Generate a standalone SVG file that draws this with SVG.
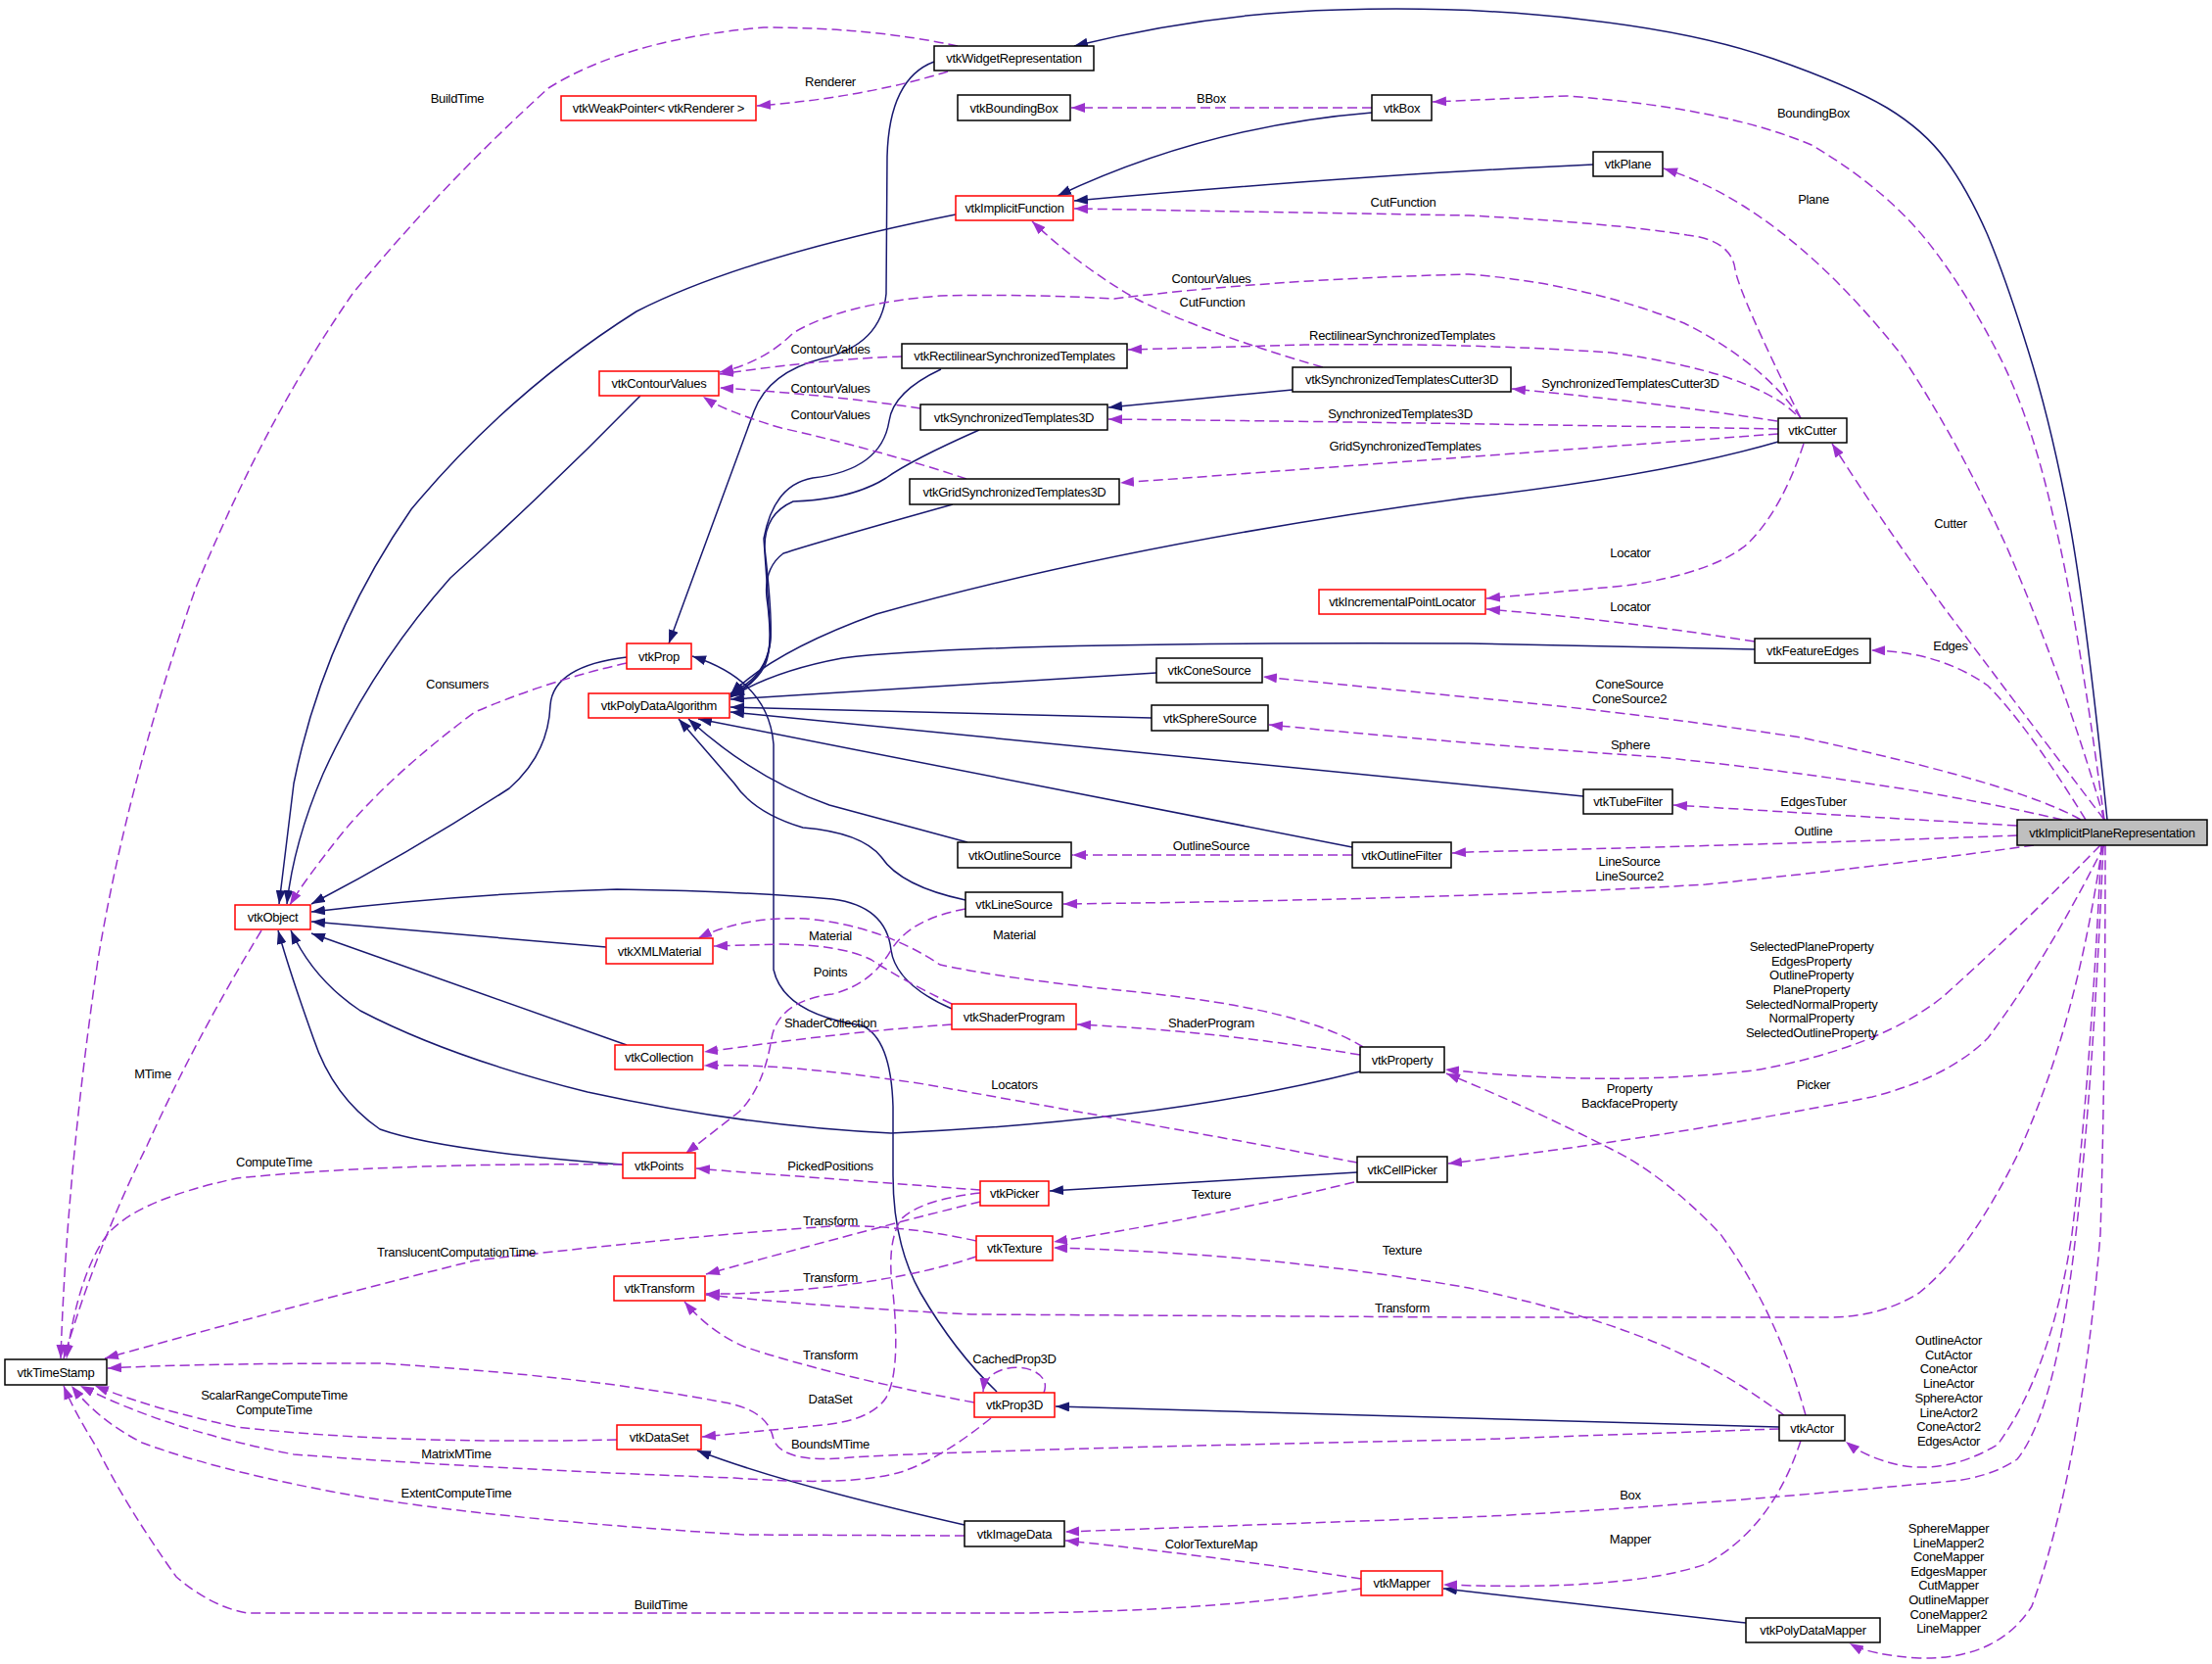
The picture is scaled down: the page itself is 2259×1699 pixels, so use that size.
<svg xmlns="http://www.w3.org/2000/svg" width="2259" height="1699" viewBox="0 0 2259 1699">
<style>
text{font-family:"Liberation Sans",Arial,sans-serif;font-size:13px;letter-spacing:-0.3px;fill:#000;text-anchor:middle}
.n rect{fill:#fff;stroke:#000;stroke-width:1.5}
.n.r rect{stroke:#ff0000}
.n.g rect{fill:#bfbfbf}
.s{fill:none;stroke:#191970;stroke-width:1.5;marker-end:url(#as)}
.d{fill:none;stroke:#9a32cd;stroke-width:1.5;stroke-dasharray:10,5;marker-end:url(#ad)}
</style>
<defs>
<marker id="as" markerUnits="userSpaceOnUse" markerWidth="14" markerHeight="10" refX="14" refY="5" orient="auto"><path d="M0,0 L14,5 L0,10 Z" fill="#191970" stroke="none"/></marker>
<marker id="ad" markerUnits="userSpaceOnUse" markerWidth="14" markerHeight="10" refX="14" refY="5" orient="auto"><path d="M0,0 L14,5 L0,10 Z" fill="#9a32cd" stroke="none"/></marker>
</defs>
<rect width="2259" height="1699" fill="#fff"/>
<g id="edges">
<path class="s" d="M2152,837 Q2130,620 2112,525 Q2094,430 2071,357 Q2048,283 2029,238 Q2009,193 1987,163 Q1965,133 1927,110 Q1888,87 1811,60 Q1733,33 1617,20 Q1500,6 1368,10 Q1235,13 1097,47"/>
<path class="s" d="M1401,115 Q1230,129 1080,200"/>
<path class="s" d="M1627,168 Q1400,178 1097,205"/>
<path class="s" d="M976,219 Q760,262 650,318 Q520,400 420,520 Q330,650 300,800 L285,923"/>
<path class="s" d="M654,404 Q560,500 460,590 Q380,680 330,790 Q300,860 293,923"/>
<path class="s" d="M640,671 Q565,680 562,720 Q560,770 520,805 Q420,870 318,923"/>
<path class="s" d="M954,63 Q908,80 906,160 L905,300 Q900,352 840,366 Q785,380 770,420 L683,657"/>
<path class="s" d="M1018,1421 Q975,1380 940,1320 Q912,1270 912,1200 L912,1130 Q910,1060 880,1047 Q800,1035 790,990 L790,760 Q785,695 707,670"/>
<path class="s" d="M1817,1457 Q1500,1448 1078,1436"/>
<path class="s" d="M1783,1657 L1474,1622"/>
<path class="s" d="M985,1557 Q800,1515 712,1481"/>
<path class="s" d="M1386,1197 L1072,1216"/>
<path class="s" d="M619,967 L318,941"/>
<path class="s" d="M640,1067 L318,953"/>
<path class="s" d="M972,1030 Q915,1005 910,970 Q905,925 850,918 Q760,910 630,908 Q480,912 318,931"/>
<path class="s" d="M1389,1094 Q1186,1145 910,1157 Q760,1150 600,1115 Q460,1080 368,1032 Q320,1000 297,950"/>
<path class="s" d="M636,1189 Q450,1175 388,1153 Q340,1120 320,1060 Q295,990 284,950"/>
<path class="s" d="M1816,451 Q1700,485 1500,508 Q1150,555 895,627 Q790,665 746,709"/>
<path class="s" d="M1792,663 L1500,657 Q1000,655 860,672 Q790,685 746,712"/>
<path class="s" d="M1181,687 L746,714"/>
<path class="s" d="M1176,733 L746,722"/>
<path class="s" d="M1617,813 L746,727"/>
<path class="s" d="M1381,865 L713,734"/>
<path class="s" d="M988,860 Q915,840 847,822 Q770,795 703,734"/>
<path class="s" d="M986,919 Q920,905 900,875 Q880,850 820,845 Q770,830 750,800 L693,734"/>
<path class="s" d="M961,377 Q912,400 908,430 Q900,480 830,488 Q790,495 780,550 Q785,620 787,650 Q785,690 746,708"/>
<path class="s" d="M1000,439 Q930,470 905,488 Q870,510 810,512 Q780,525 781,560 Q790,640 786,660 Q780,695 746,710"/>
<path class="s" d="M973,515 Q830,555 800,565 Q780,580 783,610 Q790,660 781,680 Q770,700 746,711"/>
<path class="s" d="M1320,398 L1132,416"/>
<path class="d" d="M978,47 Q890,28 780,28 Q640,40 560,90 Q450,190 360,300 Q270,430 200,600 Q130,800 100,980 Q68,1200 62,1387"/>
<path class="d" d="M968,73 Q880,100 773,108"/>
<path class="d" d="M1401,110 L1094,110"/>
<path class="d" d="M2149,837 Q2120,620 2097,528 Q2074,425 2040,360 Q2009,300 1975,255 Q1930,195 1850,148 Q1760,110 1600,98 L1463,104"/>
<path class="d" d="M2149,837 Q2110,700 2050,560 Q2000,450 1940,360 Q1860,260 1780,210 Q1740,185 1699,172"/>
<path class="d" d="M1839,427 Q1776,300 1772,275 Q1768,245 1723,240 Q1650,228 1500,220 L1097,213"/>
<path class="d" d="M1839,427 Q1800,370 1720,330 Q1620,290 1500,280 Q1300,285 1138,305 Q1050,300 960,302 Q860,310 810,340 Q780,370 735,380"/>
<path class="d" d="M1351,375 Q1230,340 1160,305 Q1100,270 1054,226"/>
<path class="d" d="M1834,423 Q1790,380 1645,360 Q1500,350 1332,352 L1152,357"/>
<path class="d" d="M1815,430 Q1700,412 1544,397"/>
<path class="d" d="M1816,438 Q1500,432 1132,428"/>
<path class="d" d="M1816,443 L1144,493"/>
<path class="d" d="M921,364 Q847,366 735,382"/>
<path class="d" d="M940,417 Q847,403 735,396"/>
<path class="d" d="M987,489 Q900,460 798,437 Q740,420 718,405"/>
<path class="d" d="M1842,453 Q1820,520 1785,555 Q1750,585 1660,598 L1518,611"/>
<path class="d" d="M1792,655 Q1645,632 1518,622"/>
<path class="d" d="M2149,837 Q2060,720 1985,620 Q1920,530 1871,453"/>
<path class="d" d="M2130,837 Q2070,740 2030,700 Q1980,665 1911,664"/>
<path class="d" d="M2125,837 Q2060,800 1839,753 Q1650,725 1500,712 L1290,691"/>
<path class="d" d="M2106,837 Q1950,800 1694,773 Q1500,760 1296,740"/>
<path class="d" d="M2060,843 Q1839,830 1709,822"/>
<path class="d" d="M2060,853 Q1888,860 1500,870 L1483,871"/>
<path class="d" d="M2077,863 Q1936,883 1742,903 Q1500,918 1086,923"/>
<path class="d" d="M1381,873 L1095,873"/>
<path class="d" d="M1392,1069 Q1330,1030 1162,1013 Q1030,1000 960,985 Q900,945 823,938 Q760,935 713,958"/>
<path class="d" d="M972,1025 Q920,1000 890,980 Q860,965 798,964 L729,966"/>
<path class="d" d="M986,928 Q930,938 910,970 Q890,1005 850,1015 Q795,1022 788,1060 Q780,1110 755,1135 L700,1178"/>
<path class="d" d="M972,1046 Q871,1053 750,1070 L719,1074"/>
<path class="d" d="M1389,1077 Q1235,1052 1100,1046"/>
<path class="d" d="M1386,1187 Q1186,1150 944,1107 Q800,1085 719,1088"/>
<path class="d" d="M2145,863 Q2060,950 1985,1017 Q1920,1070 1791,1093 Q1645,1110 1476,1092"/>
<path class="d" d="M1844,1445 Q1815,1340 1757,1260 Q1700,1200 1645,1173 Q1560,1130 1477,1096"/>
<path class="d" d="M2149,863 Q2090,980 2030,1060 Q1990,1100 1912,1120 Q1700,1162 1479,1188"/>
<path class="d" d="M636,1189 Q400,1187 242,1203 Q140,1225 110,1260 Q80,1300 68,1387"/>
<path class="d" d="M267,950 Q200,1060 150,1170 Q100,1270 65,1387"/>
<path class="d" d="M640,677 Q560,695 485,727 Q400,790 350,850 Q310,900 296,924"/>
<path class="d" d="M997,1267 Q920,1250 850,1252 Q700,1262 485,1287 Q300,1333 107,1387"/>
<path class="d" d="M1001,1227 Q915,1248 750,1293 L721,1301"/>
<path class="d" d="M997,1283 Q900,1315 750,1321 L721,1321"/>
<path class="d" d="M2147,863 Q2120,1050 2060,1180 Q2010,1280 1960,1320 Q1920,1345 1868,1345 L1500,1345 L992,1342 Q850,1335 721,1322"/>
<path class="d" d="M2146,863 Q2135,1100 2116,1260 Q2095,1400 2040,1475 Q1990,1505 1940,1496 Q1905,1488 1885,1472"/>
<path class="d" d="M2148,863 Q2138,1100 2120,1260 Q2100,1440 2060,1490 Q2030,1510 1985,1513 Q1700,1540 1500,1549 L1088,1564"/>
<path class="d" d="M2150,863 Q2150,1100 2145,1260 Q2125,1500 2075,1640 Q2040,1695 1960,1693 Q1910,1690 1889,1678"/>
<path class="d" d="M995,1432 Q850,1405 760,1375 Q725,1360 699,1329"/>
<path class="d" d="M1066,1422 C1078,1392 1008,1384 1004,1421"/>
<path class="d" d="M1012,1448 Q960,1490 920,1503 Q870,1518 750,1509 Q500,1500 300,1485 Q170,1460 82,1415"/>
<path class="d" d="M1817,1459 L1500,1470 Q1000,1480 870,1488 Q800,1495 790,1470 Q785,1440 740,1432 Q600,1405 388,1392 Q200,1392 110,1397"/>
<path class="d" d="M630,1470 Q400,1475 242,1457 Q160,1440 97,1415"/>
<path class="d" d="M985,1568 L760,1567 Q485,1550 339,1523 Q218,1500 145,1473 Q100,1450 73,1415"/>
<path class="d" d="M1390,1622 Q1240,1645 1041,1647 L252,1647 Q215,1640 180,1610 Q130,1540 100,1480 Q75,1440 65,1415"/>
<path class="d" d="M1390,1612 Q1235,1588 1088,1573"/>
<path class="d" d="M1822,1445 Q1760,1400 1718,1383 Q1640,1345 1500,1315 Q1300,1280 1076,1274"/>
<path class="d" d="M1383,1207 Q1235,1243 1076,1268"/>
<path class="d" d="M1001,1215 Q895,1207 760,1197 L711,1193"/>
<path class="d" d="M1001,1218 Q940,1225 920,1245 Q905,1270 912,1320 Q920,1400 905,1427 Q890,1450 840,1455 L717,1467"/>
<path class="d" d="M1839,1471 Q1810,1560 1742,1597 Q1660,1625 1474,1618"/>
</g>
<g id="edge-labels">
<text x="467" y="105">BuildTime</text>
<text x="848" y="88">Renderer</text>
<text x="1237" y="105">BBox</text>
<text x="1852" y="120">BoundingBox</text>
<text x="1852" y="208">Plane</text>
<text x="1433" y="211">CutFunction</text>
<text x="1237" y="289">ContourValues</text>
<text x="1238" y="313">CutFunction</text>
<text x="1432" y="347">RectilinearSynchronizedTemplates</text>
<text x="848" y="361">ContourValues</text>
<text x="1665" y="396">SynchronizedTemplatesCutter3D</text>
<text x="848" y="401">ContourValues</text>
<text x="1430" y="427">SynchronizedTemplates3D</text>
<text x="848" y="428">ContourValues</text>
<text x="1435" y="460">GridSynchronizedTemplates</text>
<text x="1992" y="539">Cutter</text>
<text x="1665" y="569">Locator</text>
<text x="1665" y="624">Locator</text>
<text x="1992" y="664">Edges</text>
<text x="467" y="703">Consumers</text>
<text x="1664" y="703">ConeSource<tspan x="1664" dy="14.5">ConeSource2</tspan></text>
<text x="1665" y="765">Sphere</text>
<text x="1852" y="823">EdgesTuber</text>
<text x="1852" y="853">Outline</text>
<text x="1237" y="868">OutlineSource</text>
<text x="1664" y="884">LineSource<tspan x="1664" dy="14.5">LineSource2</tspan></text>
<text x="848" y="960">Material</text>
<text x="1036" y="959">Material</text>
<text x="1850" y="971">SelectedPlaneProperty<tspan x="1850" dy="14.67">EdgesProperty</tspan><tspan x="1850" dy="14.67">OutlineProperty</tspan><tspan x="1850" dy="14.67">PlaneProperty</tspan><tspan x="1850" dy="14.67">SelectedNormalProperty</tspan><tspan x="1850" dy="14.67">NormalProperty</tspan><tspan x="1850" dy="14.67">SelectedOutlineProperty</tspan></text>
<text x="848" y="997">Points</text>
<text x="848" y="1049">ShaderCollection</text>
<text x="1237" y="1049">ShaderProgram</text>
<text x="156" y="1101">MTime</text>
<text x="1036" y="1112">Locators</text>
<text x="1852" y="1112">Picker</text>
<text x="1664" y="1116">Property<tspan x="1664" dy="14.5">BackfaceProperty</tspan></text>
<text x="280" y="1191">ComputeTime</text>
<text x="848" y="1195">PickedPositions</text>
<text x="1237" y="1224">Texture</text>
<text x="848" y="1251">Transform</text>
<text x="1432" y="1281">Texture</text>
<text x="466" y="1283">TranslucentComputationTime</text>
<text x="848" y="1309">Transform</text>
<text x="1432" y="1340">Transform</text>
<text x="1990" y="1373">OutlineActor<tspan x="1990" dy="14.7">CutActor</tspan><tspan x="1990" dy="14.7">ConeActor</tspan><tspan x="1990" dy="14.7">LineActor</tspan><tspan x="1990" dy="14.7">SphereActor</tspan><tspan x="1990" dy="14.7">LineActor2</tspan><tspan x="1990" dy="14.7">ConeActor2</tspan><tspan x="1990" dy="14.7">EdgesActor</tspan></text>
<text x="848" y="1388">Transform</text>
<text x="1036" y="1392">CachedProp3D</text>
<text x="280" y="1429">ScalarRangeComputeTime<tspan x="280" dy="14.5">ComputeTime</tspan></text>
<text x="848" y="1433">DataSet</text>
<text x="848" y="1479">BoundsMTime</text>
<text x="466" y="1489">MatrixMTime</text>
<text x="466" y="1529">ExtentComputeTime</text>
<text x="1665" y="1531">Box</text>
<text x="1665" y="1576">Mapper</text>
<text x="1237" y="1581">ColorTextureMap</text>
<text x="1990" y="1565">SphereMapper<tspan x="1990" dy="14.6">LineMapper2</tspan><tspan x="1990" dy="14.6">ConeMapper</tspan><tspan x="1990" dy="14.6">EdgesMapper</tspan><tspan x="1990" dy="14.6">CutMapper</tspan><tspan x="1990" dy="14.6">OutlineMapper</tspan><tspan x="1990" dy="14.6">ConeMapper2</tspan><tspan x="1990" dy="14.6">LineMapper</tspan></text>
<text x="675" y="1643">BuildTime</text>
</g>
<g id="node-vtkWidgetRepresentation" class="n"><rect x="954" y="47" width="163" height="25"/><text x="1035.5" y="64">vtkWidgetRepresentation</text></g>
<g id="node-vtkWeakPointer" class="n r"><rect x="573" y="98" width="199" height="25"/><text x="672.5" y="115">vtkWeakPointer&lt; vtkRenderer &gt;</text></g>
<g id="node-vtkBoundingBox" class="n"><rect x="978" y="97" width="115" height="26"/><text x="1035.5" y="114.5">vtkBoundingBox</text></g>
<g id="node-vtkBox" class="n"><rect x="1401" y="97" width="61" height="26"/><text x="1431.5" y="114.5">vtkBox</text></g>
<g id="node-vtkPlane" class="n"><rect x="1627" y="155" width="71" height="25"/><text x="1662.5" y="172">vtkPlane</text></g>
<g id="node-vtkImplicitFunction" class="n r"><rect x="976" y="200" width="120" height="25"/><text x="1036" y="217">vtkImplicitFunction</text></g>
<g id="node-vtkContourValues" class="n r"><rect x="612" y="379" width="122" height="25"/><text x="673" y="396">vtkContourValues</text></g>
<g id="node-vtkRectilinearSynchronizedTemplates" class="n"><rect x="921" y="351" width="230" height="25"/><text x="1036" y="368">vtkRectilinearSynchronizedTemplates</text></g>
<g id="node-vtkSynchronizedTemplatesCutter3D" class="n"><rect x="1320" y="375" width="223" height="25"/><text x="1431.5" y="392">vtkSynchronizedTemplatesCutter3D</text></g>
<g id="node-vtkSynchronizedTemplates3D" class="n"><rect x="940" y="413" width="191" height="26"/><text x="1035.5" y="430.5">vtkSynchronizedTemplates3D</text></g>
<g id="node-vtkCutter" class="n"><rect x="1816" y="427" width="70" height="25"/><text x="1851" y="444">vtkCutter</text></g>
<g id="node-vtkGridSynchronizedTemplates3D" class="n"><rect x="929" y="489" width="214" height="26"/><text x="1036" y="506.5">vtkGridSynchronizedTemplates3D</text></g>
<g id="node-vtkIncrementalPointLocator" class="n r"><rect x="1347" y="602" width="170" height="25"/><text x="1432" y="619">vtkIncrementalPointLocator</text></g>
<g id="node-vtkProp" class="n r"><rect x="640" y="657" width="66" height="26"/><text x="673" y="674.5">vtkProp</text></g>
<g id="node-vtkPolyDataAlgorithm" class="n r"><rect x="601" y="708" width="144" height="25"/><text x="673" y="725">vtkPolyDataAlgorithm</text></g>
<g id="node-vtkFeatureEdges" class="n"><rect x="1792" y="652" width="118" height="25"/><text x="1851" y="669">vtkFeatureEdges</text></g>
<g id="node-vtkConeSource" class="n"><rect x="1181" y="672" width="108" height="25"/><text x="1235" y="689">vtkConeSource</text></g>
<g id="node-vtkSphereSource" class="n"><rect x="1176" y="720" width="119" height="26"/><text x="1235.5" y="737.5">vtkSphereSource</text></g>
<g id="node-vtkTubeFilter" class="n"><rect x="1617" y="806" width="91" height="25"/><text x="1662.5" y="823">vtkTubeFilter</text></g>
<g id="node-vtkImplicitPlaneRepresentation" class="n g"><rect x="2060" y="837" width="194" height="26"/><text x="2157" y="854.5">vtkImplicitPlaneRepresentation</text></g>
<g id="node-vtkOutlineSource" class="n"><rect x="978" y="860" width="116" height="26"/><text x="1036" y="877.5">vtkOutlineSource</text></g>
<g id="node-vtkOutlineFilter" class="n"><rect x="1381" y="860" width="101" height="26"/><text x="1431.5" y="877.5">vtkOutlineFilter</text></g>
<g id="node-vtkLineSource" class="n"><rect x="986" y="911" width="99" height="25"/><text x="1035.5" y="928">vtkLineSource</text></g>
<g id="node-vtkObject" class="n r"><rect x="240" y="924" width="77" height="25"/><text x="278.5" y="941">vtkObject</text></g>
<g id="node-vtkXMLMaterial" class="n r"><rect x="619" y="958" width="109" height="26"/><text x="673.5" y="975.5">vtkXMLMaterial</text></g>
<g id="node-vtkShaderProgram" class="n r"><rect x="972" y="1025" width="127" height="26"/><text x="1035.5" y="1042.5">vtkShaderProgram</text></g>
<g id="node-vtkProperty" class="n"><rect x="1389" y="1069" width="86" height="26"/><text x="1432" y="1086.5">vtkProperty</text></g>
<g id="node-vtkCollection" class="n r"><rect x="628" y="1067" width="90" height="25"/><text x="673" y="1084">vtkCollection</text></g>
<g id="node-vtkPoints" class="n r"><rect x="636" y="1177" width="74" height="26"/><text x="673" y="1194.5">vtkPoints</text></g>
<g id="node-vtkCellPicker" class="n"><rect x="1386" y="1181" width="92" height="26"/><text x="1432" y="1198.5">vtkCellPicker</text></g>
<g id="node-vtkPicker" class="n r"><rect x="1001" y="1206" width="70" height="25"/><text x="1036" y="1223">vtkPicker</text></g>
<g id="node-vtkTexture" class="n r"><rect x="997" y="1262" width="78" height="25"/><text x="1036" y="1279">vtkTexture</text></g>
<g id="node-vtkTransform" class="n r"><rect x="627" y="1303" width="93" height="25"/><text x="673.5" y="1320">vtkTransform</text></g>
<g id="node-vtkTimeStamp" class="n"><rect x="5" y="1388" width="104" height="26"/><text x="57" y="1405.5">vtkTimeStamp</text></g>
<g id="node-vtkDataSet" class="n r"><rect x="630" y="1455" width="86" height="25"/><text x="673" y="1472">vtkDataSet</text></g>
<g id="node-vtkProp3D" class="n r"><rect x="995" y="1422" width="82" height="25"/><text x="1036" y="1439">vtkProp3D</text></g>
<g id="node-vtkActor" class="n"><rect x="1817" y="1445" width="67" height="26"/><text x="1850.5" y="1462.5">vtkActor</text></g>
<g id="node-vtkImageData" class="n"><rect x="985" y="1553" width="102" height="26"/><text x="1036" y="1570.5">vtkImageData</text></g>
<g id="node-vtkMapper" class="n r"><rect x="1390" y="1604" width="83" height="25"/><text x="1431.5" y="1621">vtkMapper</text></g>
<g id="node-vtkPolyDataMapper" class="n"><rect x="1783" y="1652" width="137" height="25"/><text x="1851.5" y="1669">vtkPolyDataMapper</text></g>
</svg>
